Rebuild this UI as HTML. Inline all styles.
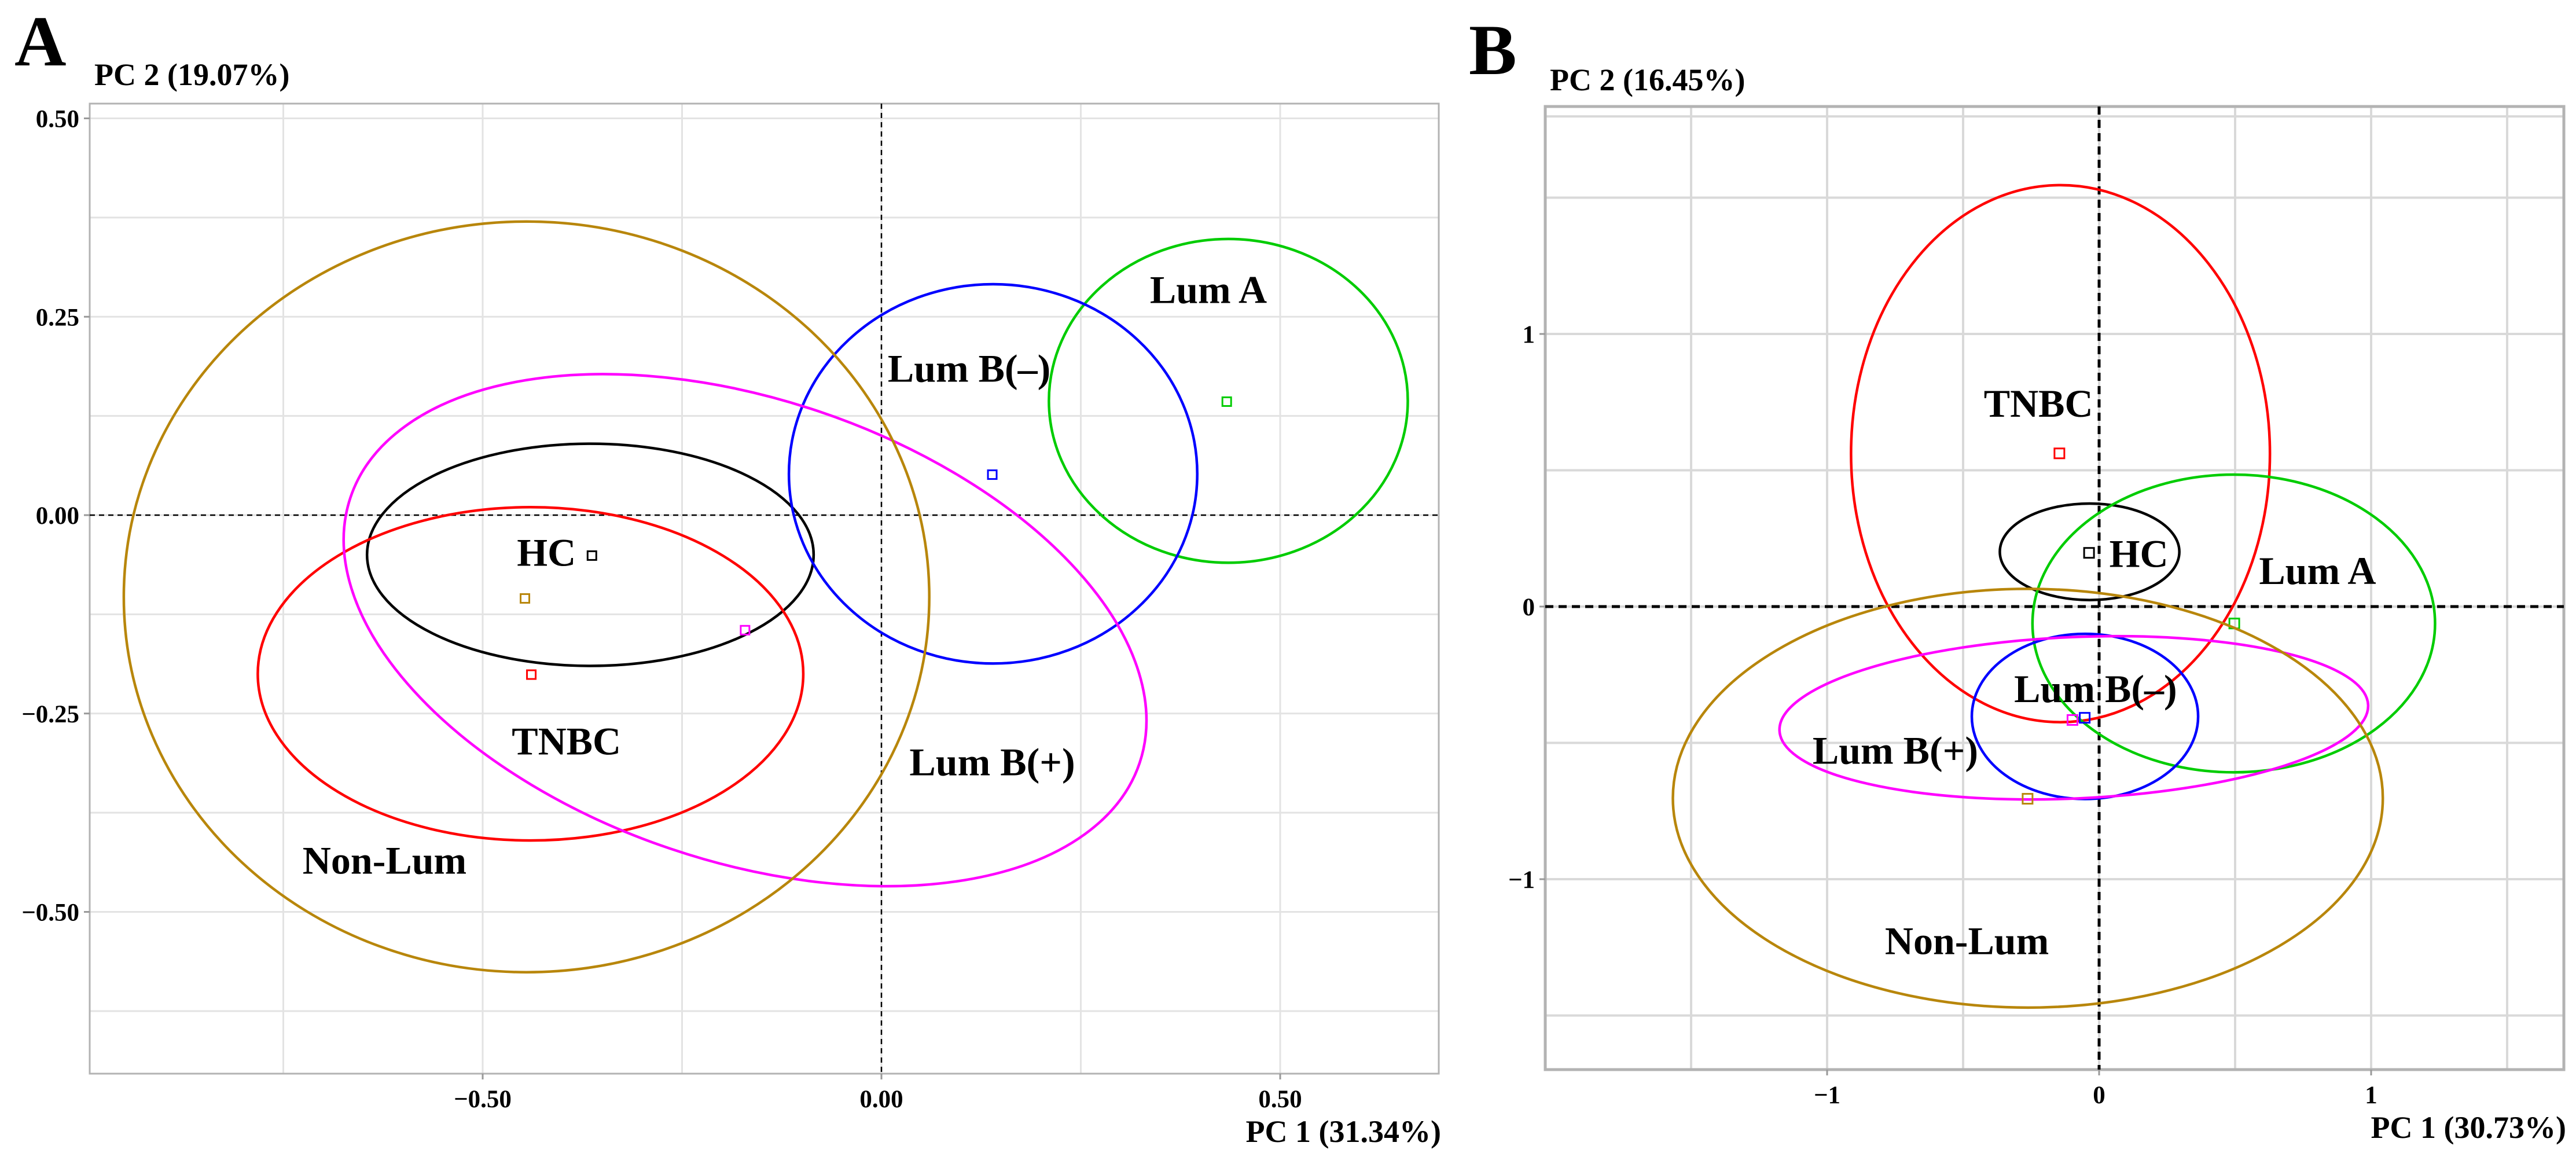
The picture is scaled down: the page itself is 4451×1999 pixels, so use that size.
<!DOCTYPE html>
<html><head><meta charset="utf-8"><style>
html,body{margin:0;padding:0;background:#fff;}
svg{display:block;font-family:"Liberation Serif",serif;font-weight:bold;}
</style></head><body>
<svg id="fig" width="4451" height="1999" viewBox="0 0 4451 1999" xmlns="http://www.w3.org/2000/svg"></svg>
<script>
// ---------- shared ----------
const groups = ["HC","TNBC","Lum A","Lum B(–)","Lum B(+)","Non-Lum"];
const colors = ["#000000","#ff0000","#00cc00","#0000ff","#ff00ff","#b8860b"];

// ---------- panel A data ----------
const aCx  = [-0.365,-0.44, 0.435, 0.14,-0.171,-0.445];
const aCy  = [-0.05, -0.2,  0.144, 0.052,-0.145,-0.103];
const aRx  = [0.28,  0.342, 0.225, 0.256, 0.522, 0.505];
const aRy  = [0.14,  0.21,  0.204, 0.239, 0.291, 0.473];
const aRot = [0,0,0,0,18.6,0];
const aPtX = [-0.363,-0.439,0.433,0.139,-0.171,-0.447];
const aPtY = [-0.051,-0.201,0.143,0.051,-0.145,-0.105];
const aLabX = [-0.42,-0.395,0.41,0.110,0.139,-0.623];
const aLabY = [-0.047,-0.285,0.284,0.185,-0.311,-0.435];
const aXTicks = [-0.5,0,0.5];
const aXTickLabels = ["\u22120.50","0.00","0.50"];
const aYTicks = [0.5,0.25,0,-0.25,-0.5];
const aYTickLabels = ["0.50","0.25","0.00","\u22120.25","\u22120.50"];
const aXMinor = [-0.75,-0.25,0.25];
const aYMinor = [0.375,0.125,-0.125,-0.375,-0.625];

// ---------- panel B data ----------
const bCx  = [-0.035,-0.142,0.495,-0.052,-0.093,-0.262];
const bCy  = [0.201, 0.561,-0.062,-0.403,-0.408,-0.703];
const bRx  = [0.33,  0.77,  0.74,  0.416, 1.083, 1.305];
const bRy  = [0.177, 0.985, 0.546, 0.303, 0.296, 0.768];
const bRot = [0,0,0,0,-2.5,0];
const bPtX = [-0.037,-0.146,0.497,-0.053,-0.098,-0.263];
const bPtY = [0.197, 0.562,-0.062,-0.408,-0.416,-0.705];
const bLabX = [0.146,-0.223,0.803,-0.013,-0.749,-0.486];
const bLabY = [0.194, 0.745,0.132,-0.302,-0.528,-1.226];
const bXTicks = [-1,0,1];
const bXTickLabels = ["\u22121","0","1"];
const bYTicks = [1,0,-1];
const bYTickLabels = ["1","0","\u22121"];
const bXMinor = [-1.5,-0.5,0.5,1.5];
const bYMinor = [1.798,1.5,0.5,-0.5,-1.5];

const NS="http://www.w3.org/2000/svg";
const svg=document.getElementById("fig");
function mk(tag,attrs,parent){const e=document.createElementNS(NS,tag);for(const k in attrs)e.setAttribute(k,attrs[k]);(parent||svg).appendChild(e);return e;}

function panel(P){
  const g=mk("g",{});
  
  
  const sx=v=>P.x0+v*P.kx, sy=v=>P.y0-v*P.ky;
  const bg=mk("rect",{x:P.L,y:P.T,width:P.R-P.L,height:P.B-P.T,fill:"#fff",stroke:"none"},g);
  
  
  P.xMinor.concat(P.xTicks).forEach(v=>{const l=mk("line",{x1:sx(v),x2:sx(v),y1:P.T,y2:P.B,stroke:P.gridC,"stroke-width":P.gw},g);
    
    });
  P.yMinor.concat(P.yTicks).forEach(v=>{const l=mk("line",{x1:P.L,x2:P.R,y1:sy(v),y2:sy(v),stroke:P.gridC,"stroke-width":P.gw},g);
    
    });
  const bd=mk("rect",{x:P.L,y:P.T,width:P.R-P.L,height:P.B-P.T,fill:"none",stroke:"#b3b3b3","stroke-width":P.bw},g);
  
  
  const zx=mk("line",{x1:sx(0),x2:sx(0),y1:P.T,y2:P.B,stroke:"#000","stroke-width":P.zw,"stroke-dasharray":P.dash},g);
  
  
  const zy=mk("line",{x1:P.L,x2:P.R,y1:sy(0),y2:sy(0),stroke:"#000","stroke-width":P.zw,"stroke-dasharray":P.dash},g);
  
  
  for(let i=0;i<groups.length;i++){
    const cx=sx(P.cx[i]), cy=sy(P.cy[i]);
    const e=mk("ellipse",{cx:cx,cy:cy,rx:P.rx[i]*P.kx,ry:P.ry[i]*P.ky,fill:"none",stroke:colors[i],"stroke-width":4.5,transform:`rotate(${P.rot[i]} ${cx} ${cy})`},g);
    
    
    const px=sx(P.ptX[i]), py=sy(P.ptY[i]);
    const s=mk("rect",{x:px-P.ps/2,y:py-P.ps/2,width:P.ps,height:P.ps,fill:"none",stroke:colors[i],"stroke-width":3},g);
    
    
  }
  for(let i=0;i<groups.length;i++){
    const t=mk("text",{x:sx(P.labX[i]),y:sy(P.labY[i])+23,"text-anchor":"middle","font-size":68,fill:"#000"},g);
    t.textContent=groups[i];
    
    
  }
  P.xTicks.forEach((v,i)=>{
    mk("line",{x1:sx(v),x2:sx(v),y1:P.B,y2:P.B+10,stroke:"#999","stroke-width":3},g);
    const t=mk("text",{x:sx(v),y:P.B+58,"text-anchor":"middle","font-size":43},g);
    t.textContent=P.xTickLabels[i];
    
    
  });
  P.yTicks.forEach((v,i)=>{
    mk("line",{x1:P.L-10,x2:P.L,y1:sy(v),y2:sy(v),stroke:"#999","stroke-width":3},g);
    const t=mk("text",{x:P.L-18,y:sy(v)+15,"text-anchor":"end","font-size":43},g);
    t.textContent=P.yTickLabels[i];
    
    
  });
  const yt=mk("text",{x:P.L+8,y:P.ytY,"font-size":54},g);
  yt.textContent=P.yTitle;
  
  
  const xt=mk("text",{x:P.R+4,y:P.B+118,"text-anchor":"end","font-size":54},g);
  xt.textContent=P.xTitle;
  
  
  const pl=mk("text",{x:P.letX,y:P.letY,"font-size":124},g);
  pl.textContent=P.letter;
  
  
}

panel({id:"panel-a",L:155,R:2486,T:179,B:1855,x0:1523,kx:1378,y0:890,ky:1371,
  cx:aCx,cy:aCy,rx:aRx,ry:aRy,rot:aRot,ptX:aPtX,ptY:aPtY,labX:aLabX,labY:aLabY,
  xTicks:aXTicks,xTickLabels:aXTickLabels,yTicks:aYTicks,yTickLabels:aYTickLabels,xMinor:aXMinor,yMinor:aYMinor,
  gridC:"#e3e3e3",gw:3,bw:3,zw:2.5,dash:"9 7",ps:15,
  yTitle:"PC 2 (19.07%)",xTitle:"PC 1 (31.34%)",ytY:147,letter:"A",letX:25,letY:113});

panel({id:"panel-b",L:2670,R:4430,T:184,B:1848,x0:3627,kx:470,y0:1048,ky:471,
  cx:bCx,cy:bCy,rx:bRx,ry:bRy,rot:bRot,ptX:bPtX,ptY:bPtY,labX:bLabX,labY:bLabY,
  xTicks:bXTicks,xTickLabels:bXTickLabels,yTicks:bYTicks,yTickLabels:bYTickLabels,xMinor:bXMinor,yMinor:bYMinor,
  gridC:"#d9d9d9",gw:4,bw:5,zw:5,dash:"14 9",ps:17,
  yTitle:"PC 2 (16.45%)",xTitle:"PC 1 (30.73%)",ytY:156,letter:"B",letX:2538,letY:128});
</script>
</body></html>
